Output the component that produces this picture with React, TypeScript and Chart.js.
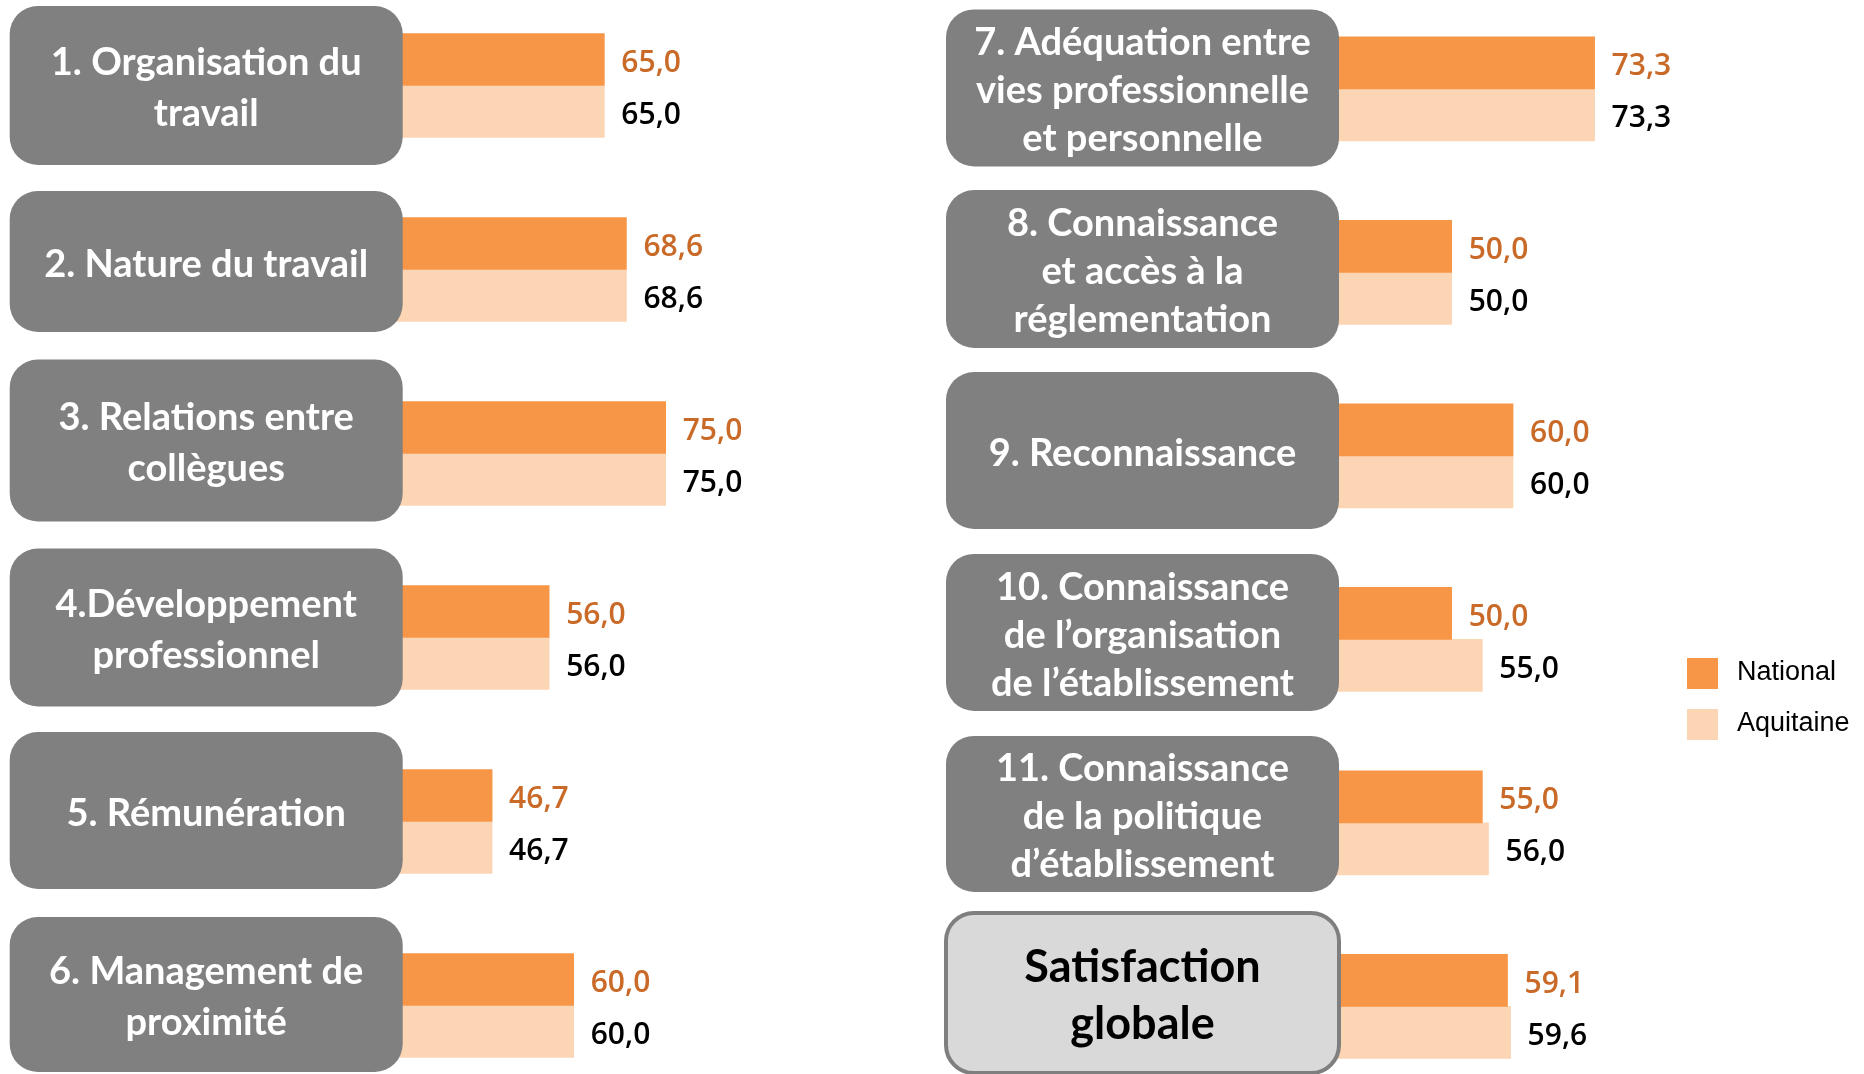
import React, { useEffect, useRef } from 'react';
import { Chart, registerables } from 'chart.js';

Chart.register(...registerables);

// ---------- DATA ----------
const seriesNames = ['National', 'Aquitaine'];

const categoriesLeft: string[][] = [
  ['1. Organisation du', 'travail'],
  ['2. Nature du travail'],
  ['3. Relations entre', 'collègues'],
  ['4.Développement', 'professionnel'],
  ['5. Rémunération'],
  ['6. Management de', 'proximité'],
];
const nationalLeft = [65.0, 68.6, 75.0, 56.0, 46.7, 60.0];
const aquitaineLeft = [65.0, 68.6, 75.0, 56.0, 46.7, 60.0];

const categoriesRight: string[][] = [
  ['7. Adéquation entre', 'vies professionnelle', 'et personnelle'],
  ['8. Connaissance', 'et accès à la', 'réglementation'],
  ['9. Reconnaissance'],
  ['10. Connaissance', 'de l’organisation', 'de l’établissement'],
  ['11. Connaissance', 'de la politique', 'd’établissement'],
  ['Satisfaction', 'globale'],
];
const nationalRight = [73.3, 50.0, 60.0, 50.0, 55.0, 59.1];
const aquitaineRight = [73.3, 50.0, 60.0, 55.0, 56.0, 59.6];

// ---------- STYLE ----------
const COLOR_NATIONAL = '#F79646';
const COLOR_AQUITAINE = '#FCD5B4';
const LABEL_COLORS = ['#C96A28', '#000000'];
const W = 932;
const H = 1074;

const fmt = (v: number) => v.toFixed(1).replace('.', ',');

const boxPlugin = {
  id: 'labelBoxes',
  afterDatasetsDraw(chart: any, _args: any, opts: any) {
    const { ctx, chartArea, scales } = chart;
    const yScale = scales.y;
    const labels = chart.data.labels as any[];
    labels.forEach((lab, i) => {
      const cy = yScale.getPixelForValue(i) + opts.offsets[i];
      const h = opts.heights[i];
      const x0 = chartArea.left + opts.left;
      const w = opts.width;
      const top = cy - h / 2;
      const hl = i === opts.highlight;
      ctx.save();
      ctx.beginPath();
      ctx.roundRect(x0, top, w, h, opts.radius);
      ctx.fillStyle = hl ? '#D9D9D9' : '#808080';
      ctx.fill();
      if (hl) {
        ctx.lineWidth = 4;
        ctx.strokeStyle = '#7F7F7F';
        ctx.stroke();
      }
      const lines: string[] = Array.isArray(lab) ? lab : [lab];
      const fs = hl ? 45 : 38;
      const lh = hl ? 57 : lines.length >= 3 ? 48 : 51;
      ctx.font = `bold ${fs}px Lato`;
      ctx.fillStyle = hl ? '#000000' : '#FFFFFF';
      ctx.textAlign = 'center';
      ctx.textBaseline = 'middle';
      const cx = x0 + w / 2;
      lines.forEach((ln, k) => {
        ctx.fillText(ln, cx, cy + (k - (lines.length - 1) / 2) * lh + 3);
      });
      ctx.restore();
    });

    // value labels
    ctx.save();
    ctx.font = '600 30px "Open Sans"';
    ctx.textAlign = 'left';
    ctx.textBaseline = 'middle';
    chart.data.datasets.forEach((ds: any, di: number) => {
      const meta = chart.getDatasetMeta(di);
      ctx.fillStyle = LABEL_COLORS[di];
      meta.data.forEach((el: any, i: number) => {
        ctx.fillText(fmt(ds.data[i]), el.x + 17, el.y + 4);
      });
    });
    ctx.restore();
  },
};

const legendPlugin = {
  id: 'sideLegend',
  afterDraw(chart: any) {
    const { ctx } = chart;
    ctx.save();
    ctx.font = '27px "Liberation Sans"';
    ctx.textAlign = 'left';
    ctx.textBaseline = 'middle';
    chart.data.datasets.forEach((ds: any, i: number) => {
      const top = 658 + i * 51;
      ctx.fillStyle = ds.backgroundColor;
      ctx.fillRect(755, top, 31, 31);
      ctx.fillStyle = '#000000';
      ctx.fillText(ds.label, 805, top + 15);
    });
    ctx.restore();
  },
};

function makeConfig(
  labels: string[][],
  nat: number[],
  aqu: number[],
  padding: any,
  boxOpts: any,
  extraPlugins: any[]
): any {
  return {
    type: 'bar',
    data: {
      labels,
      datasets: [
        { label: seriesNames[0], data: nat, backgroundColor: COLOR_NATIONAL, barThickness: 52, clip: false },
        { label: seriesNames[1], data: aqu, backgroundColor: COLOR_AQUITAINE, barThickness: 52, clip: false },
      ],
    },
    options: {
      indexAxis: 'y',
      responsive: false,
      animation: false,
      layout: { padding },
      scales: {
        x: { display: false, min: 0, max: 100 },
        y: { display: false, offset: false },
      },
      plugins: {
        legend: { display: false },
        tooltip: { enabled: false },
        labelBoxes: boxOpts,
      },
    },
    plugins: [boxPlugin, ...extraPlugins],
  };
}

export default function App() {
  const leftRef = useRef<HTMLCanvasElement>(null);
  const rightRef = useRef<HTMLCanvasElement>(null);

  useEffect(() => {
    document.body.style.margin = '0';
    document.body.style.overflow = 'hidden';
    const c1 = new Chart(
      leftRef.current!,
      makeConfig(
        categoriesLeft,
        nationalLeft,
        aquitaineLeft,
        { left: 205.7, right: 113, top: 85.5, bottom: 68.5 },
        {
          left: -196,
          width: 393,
          radius: 28,
          highlight: -1,
          offsets: [0, -8, -13, -10, -11, -11],
          heights: [159, 141, 162, 158, 157, 155],
        },
        []
      )
    );
    const c2 = new Chart(
      rightRef.current!,
      makeConfig(
        categoriesRight,
        nationalRight,
        aquitaineRight,
        { left: 213, right: 105.6, top: 88.9, bottom: 67.6 },
        {
          left: -199,
          width: 393,
          radius: 28,
          highlight: 5,
          offsets: [-1, -3.4, -5.4, -7, -9, -13.4],
          heights: [157, 158, 157, 157, 156, 160],
        },
        [legendPlugin]
      )
    );
    return () => {
      c1.destroy();
      c2.destroy();
    };
  }, []);

  return (
    <div style={{ position: 'relative', width: 1864, height: H, background: '#FFFFFF', overflow: 'hidden' }}>
      <canvas ref={leftRef} width={W} height={H} style={{ position: 'absolute', left: 0, top: 0 }} />
      <canvas ref={rightRef} width={W} height={H} style={{ position: 'absolute', left: W, top: 0 }} />
    </div>
  );
}
